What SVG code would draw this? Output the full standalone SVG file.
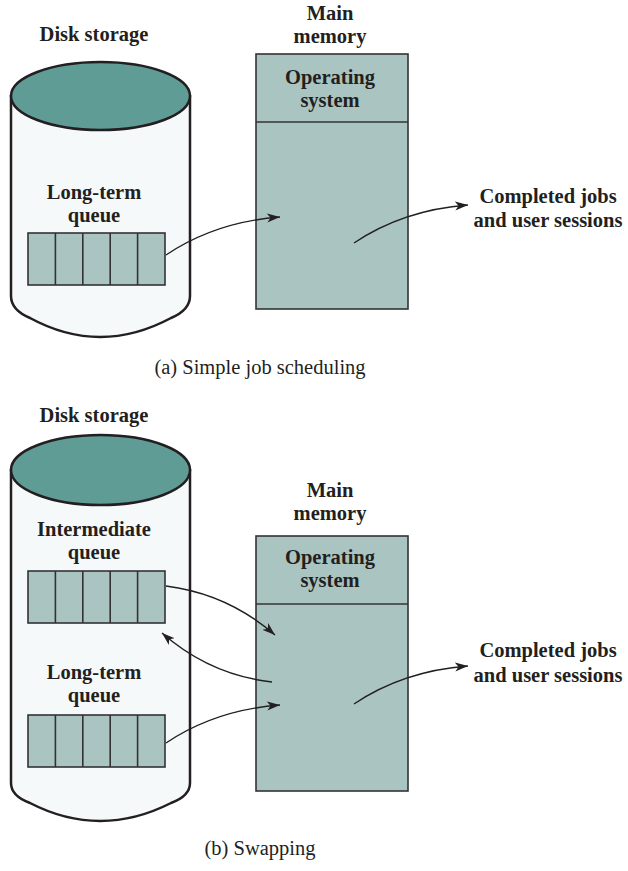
<svg xmlns="http://www.w3.org/2000/svg" width="628" height="871" viewBox="0 0 628 871">
<style>
.b{font-family:"Liberation Serif","Times New Roman",serif;font-weight:bold;font-size:20.5px;fill:#231f20;text-anchor:middle}
.cap{font-family:"Liberation Serif","Times New Roman",serif;font-size:20.5px;fill:#231f20;text-anchor:middle}
.body{fill:#f6f9f9;stroke:#231f20;stroke-width:2.5}
.top{fill:#5f9c96;stroke:#231f20;stroke-width:2.5}
.mem{fill:#aac5c1;stroke:#333;stroke-width:1.6}
.q{fill:#aac5c1;stroke:#333;stroke-width:1.6}
.ln{fill:none;stroke:#333;stroke-width:1.6}
.ar{fill:none;stroke:#231f20;stroke-width:1.4;marker-end:url(#ah)}
</style>
<defs>
<marker id="ah" markerUnits="userSpaceOnUse" markerWidth="14" markerHeight="10" refX="13" refY="4.5" orient="auto">
<path d="M0,0 L13,4.5 L0,9 L3.5,4.5 z" fill="#231f20"/>
</marker>
</defs>

<g id="disk-a">
<text class="b" x="94" y="41">Disk storage</text>
<path class="body" d="M11,96 V296 Q11,310 30,318 Q100,356 171,318 Q190,310 190,296 V96 Z"/>
<ellipse class="top" cx="100.5" cy="96" rx="89.5" ry="34"/>
</g>
<g id="queue-a">
<text class="b" x="94" y="199">Long-term</text>
<text class="b" x="94" y="222">queue</text>
<rect class="q" x="28" y="233" width="137" height="52"/>
<path class="ln" d="M55.4,233 V285 M82.8,233 V285 M110.2,233 V285 M137.6,233 V285"/>
</g>
<g id="memory-a">
<text class="b" x="330" y="20">Main</text>
<text class="b" x="330" y="43">memory</text>
<rect class="mem" x="256" y="54" width="152" height="255"/>
<line class="ln" x1="256" y1="122" x2="408" y2="122"/>
<text class="b" x="330" y="84">Operating</text>
<text class="b" x="330" y="107">system</text>
</g>
<g id="completed-a">
<text class="b" x="548" y="203">Completed jobs</text>
<text class="b" x="548" y="227">and user sessions</text>
</g>
<text id="caption-a" class="cap" x="260" y="374">(a) Simple job scheduling</text>

<g id="disk-b">
<text class="b" x="94" y="422">Disk storage</text>
<path class="body" d="M11,470 V783 Q11,796 30,803 Q100,839 171,803 Q190,796 190,783 V470 Z"/>
<ellipse class="top" cx="100.5" cy="470" rx="89.5" ry="35"/>
</g>
<g id="queue-intermediate">
<text class="b" x="94" y="536">Intermediate</text>
<text class="b" x="94" y="559">queue</text>
<rect class="q" x="28" y="571" width="137" height="52"/>
<path class="ln" d="M55.4,571 V623 M82.8,571 V623 M110.2,571 V623 M137.6,571 V623"/>
</g>
<g id="queue-b">
<text class="b" x="94" y="679">Long-term</text>
<text class="b" x="94" y="702">queue</text>
<rect class="q" x="28" y="715" width="137" height="52"/>
<path class="ln" d="M55.4,715 V767 M82.8,715 V767 M110.2,715 V767 M137.6,715 V767"/>
</g>
<g id="memory-b">
<text class="b" x="330" y="497">Main</text>
<text class="b" x="330" y="520">memory</text>
<rect class="mem" x="256" y="536" width="152" height="255"/>
<line class="ln" x1="256" y1="604" x2="408" y2="604"/>
<text class="b" x="330" y="564">Operating</text>
<text class="b" x="330" y="587">system</text>
</g>
<g id="completed-b">
<text class="b" x="548" y="657">Completed jobs</text>
<text class="b" x="548" y="682">and user sessions</text>
</g>
<text id="caption-b" class="cap" x="260" y="855">(b) Swapping</text>

<g id="connectors">
<path class="ar" d="M166,255 Q215,222 280,217"/>
<path class="ar" d="M354,243 Q403,210 468,205"/>
<path class="ar" d="M166,586 Q228,594 275,635"/>
<path class="ar" d="M272,682 Q210,675 162,633"/>
<path class="ar" d="M166,743 Q215,710 280,705"/>
<path class="ar" d="M354,704 Q403,671 468,666"/>
</g>
</svg>
